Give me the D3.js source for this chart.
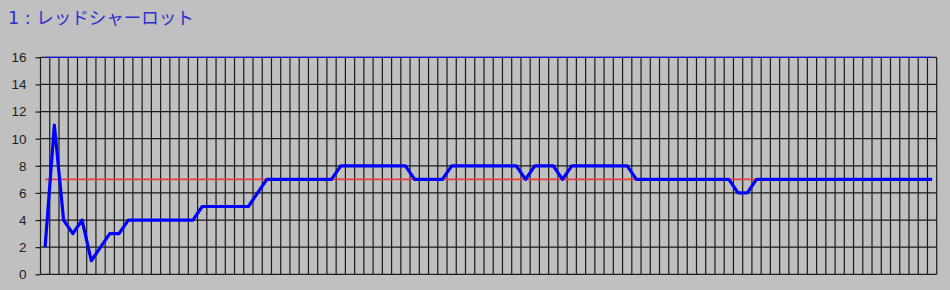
<!DOCTYPE html>
<html>
<head>
<meta charset="utf-8">
<script src="https://cdn.jsdelivr.net/npm/d3@7"></script>
<style>
  html, body { margin: 0; padding: 0; background: #c0c0c0; }
  #chart { width: 950px; height: 290px; }
</style>
</head>
<body>
<div id="chart"></div>
<script>
// datos
const titulo = '1 : レッドシャーロット';
const yTicks = [0, 2, 4, 6, 8, 10, 12, 14, 16];
const valores = [2, 11, 4, 3, 4, 1, 2, 3, 3,
  4, 4, 4, 4, 4, 4, 4, 4,
  5, 5, 5, 5, 5, 5,
  6,
  7, 7, 7, 7, 7, 7, 7, 7,
  8, 8, 8, 8, 8, 8, 8, 8,
  7, 7, 7, 7,
  8, 8, 8, 8, 8, 8, 8, 8,
  7,
  8, 8, 8,
  7,
  8, 8, 8, 8, 8, 8, 8,
  7, 7, 7, 7, 7, 7, 7, 7, 7, 7, 7,
  6, 6,
  7, 7, 7, 7, 7, 7, 7, 7, 7, 7, 7, 7, 7, 7, 7, 7, 7, 7, 7, 7];
const lineaMedia = 7;
const lineaMax = 16;
const categorias = valores.map((d, i) => i + 1);

init();

function init() {
    let margin = {top: 57.3, right: 13.3, bottom: 15.7, left: 40.5},
        width = 950 - margin.left - margin.right,
        height = 290 - margin.top - margin.bottom;

    let root = d3.select('#chart')
        .append('svg')
            .attr('width', 950)
            .attr('height', 290);

    root.append('rect')
        .attr('width', 950).attr('height', 290)
        .attr('fill', '#c0c0c0');

    root.append('text')
        .attr('x', 8)
        .attr('y', 24)
        .attr('fill', '#2e2ecc')
        .style('font-family', '"DejaVu Sans", "Noto Sans CJK JP", sans-serif')
        .style('font-size', '17.5px')
        .text(titulo);

    let svg = root.append('g')
        .attr('transform', 'translate(' + margin.left + ',' + margin.top + ')');

    let x = d3.scaleBand()
        .domain(categorias)
        .range([0, width]);

    let y = d3.scaleLinear()
        .domain([0, 16])
        .range([height, 0]);

    // rejilla vertical
    let bordes = categorias.map(c => x(c)).concat([width]);
    svg.append('g')
        .selectAll('line')
        .data(bordes)
        .enter()
        .append('line')
            .attr('x1', d => d).attr('x2', d => d)
            .attr('y1', 0).attr('y2', height)
            .attr('stroke', '#1a1a1a')
            .attr('stroke-width', 1.2);

    // eje y + rejilla horizontal
    let yAxis = function(g) {
        g.call(d3.axisLeft(y).tickValues(yTicks).tickSize(5).tickPadding(9));
        g.select('.domain').remove();
        g.selectAll('.tick line').attr('stroke', '#1a1a1a').attr('stroke-width', 1.2);
        g.selectAll('.tick text')
            .attr('fill', '#202020')
            .style('font-family', '"Liberation Sans", Arial, sans-serif')
            .style('font-size', '13.5px');
    };
    svg.append('g').call(yAxis);

    svg.append('g')
        .selectAll('line')
        .data(yTicks)
        .enter()
        .append('line')
            .attr('x1', 0).attr('x2', width)
            .attr('y1', d => y(d)).attr('y2', d => y(d))
            .attr('stroke', '#1a1a1a')
            .attr('stroke-width', 1.2);

    let cx = c => x(c) + x.bandwidth() / 2;
    let primero = categorias[0], ultimo = categorias[categorias.length - 1];

    // línea media
    svg.append('line')
        .attr('x1', cx(primero)).attr('x2', cx(ultimo))
        .attr('y1', y(lineaMedia)).attr('y2', y(lineaMedia))
        .attr('stroke', '#e84040')
        .attr('stroke-width', 1.6);

    // línea máxima
    svg.append('line')
        .attr('x1', cx(primero)).attr('x2', cx(ultimo))
        .attr('y1', y(lineaMax)).attr('y2', y(lineaMax))
        .attr('stroke', '#1010e8')
        .attr('stroke-width', 1.3);

    // serie
    let linea = d3.line()
        .x((d, i) => cx(categorias[i]))
        .y(d => y(d));

    svg.append('path')
        .datum(valores)
        .attr('d', linea)
        .attr('fill', 'none')
        .attr('stroke', '#0000ff')
        .attr('stroke-width', 3.2)
        .attr('stroke-linejoin', 'round');
}
</script>
</body>
</html>
